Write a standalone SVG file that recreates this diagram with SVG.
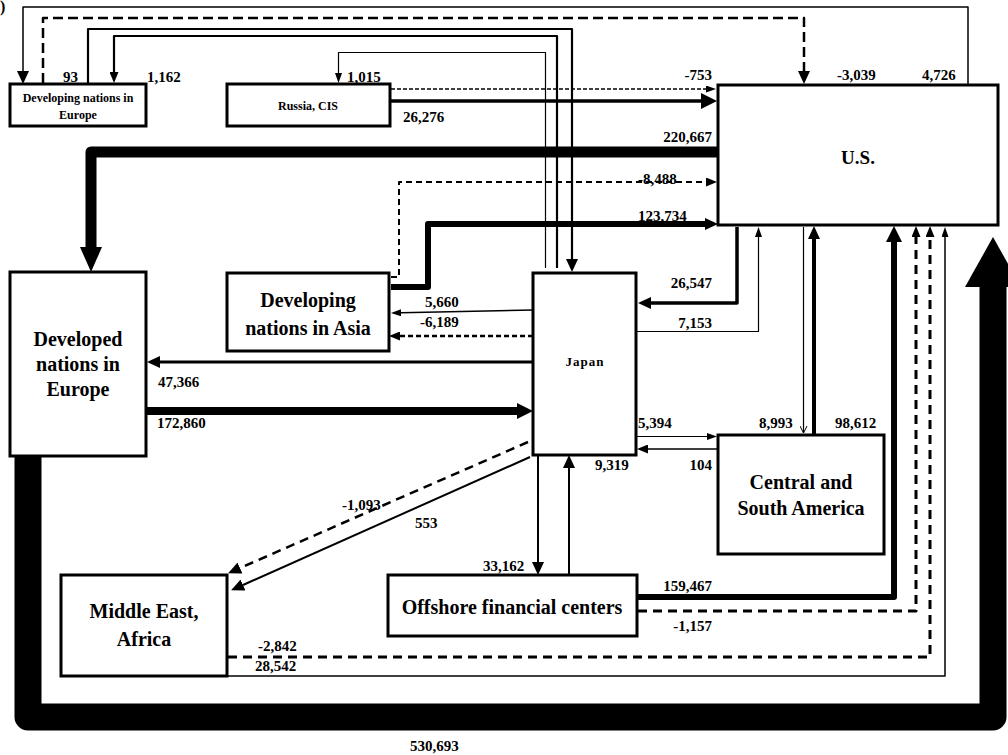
<svg xmlns="http://www.w3.org/2000/svg" width="1008" height="755" viewBox="0 0 1008 755">
<defs>
<style>
.box{fill:#fff;stroke:#000;stroke-width:3}
.t{font-family:"Liberation Serif","Times New Roman",serif;font-weight:bold;fill:#000}
.lbl{font-size:20px;text-anchor:middle}
.sm{font-size:12px;text-anchor:middle}
.n{font-size:15px}
.e{text-anchor:end}
.c{fill:none;stroke:#000;stroke-linejoin:round}
.d1{stroke-dasharray:10 5}
.d2{stroke-dasharray:4 2}
.d3{stroke-dasharray:6 4}
.d4{stroke-dasharray:5 3}
.d5{stroke-dasharray:9 6}
</style>
<marker id="a7" markerUnits="userSpaceOnUse" markerWidth="10" markerHeight="7" viewBox="0 0 10 7" refX="0" refY="3.5" orient="auto"><path d="M0,0 L10,3.5 L0,7 Z" fill="#000"/></marker>
<marker id="a9" markerUnits="userSpaceOnUse" markerWidth="11" markerHeight="9" viewBox="0 0 11 9" refX="0" refY="4.5" orient="auto"><path d="M0,0 L11,4.5 L0,9 Z" fill="#000"/></marker>
<marker id="a12" markerUnits="userSpaceOnUse" markerWidth="13" markerHeight="12" viewBox="0 0 13 12" refX="0" refY="6" orient="auto"><path d="M0,0 L13,6 L0,12 Z" fill="#000"/></marker>
<marker id="a16" markerUnits="userSpaceOnUse" markerWidth="16" markerHeight="16" viewBox="0 0 16 16" refX="0" refY="8" orient="auto"><path d="M0,0 L16,8 L0,16 Z" fill="#000"/></marker>
<marker id="a22" markerUnits="userSpaceOnUse" markerWidth="25" markerHeight="22" viewBox="0 0 25 22" refX="0" refY="11" orient="auto"><path d="M0,0 L25,11 L0,22 Z" fill="#000"/></marker>
<marker id="a54" markerUnits="userSpaceOnUse" markerWidth="50" markerHeight="56" viewBox="0 0 50 56" refX="0" refY="28" orient="auto"><path d="M0,0 L50,28 L0,56 Z" fill="#000"/></marker>
<marker id="ao" markerUnits="userSpaceOnUse" markerWidth="8" markerHeight="8" viewBox="0 0 8 8" refX="7" refY="4" orient="auto"><path d="M0,0.5 L7,4 L0,7.5" fill="none" stroke="#000" stroke-width="1"/></marker>
</defs>
<rect width="1008" height="755" fill="#fff"/>
<text class="t" x="0" y="12" font-size="16">)</text>

<g id="connectors">
<path class="c" stroke-width="1.5" d="M968,86 V7 H23 V71" marker-end="url(#a12)"/>
<path class="c d1" stroke-width="2.5" d="M43,83 V18 H804 V71" marker-end="url(#a12)"/>
<path class="c" stroke-width="2.2" d="M88,83 V29 H572 V259" marker-end="url(#a12)"/>
<path class="c" stroke-width="2.2" d="M557,268 V36 H114 V72" marker-end="url(#a9)"/>
<path class="c" stroke-width="1.2" d="M545.5,268 V52.5 H338.5 V73" marker-end="url(#a7)"/>
<path class="c d2" stroke-width="1.5" d="M391,89 H706" marker-end="url(#a7)"/>
<path class="c" stroke-width="3.5" d="M391,101 H701" marker-end="url(#a16)"/>
<path class="c" stroke-width="11" d="M718,152 H91 V247" marker-end="url(#a22)"/>
<path class="c d3" stroke-width="2" d="M391,277 H399 V182 H706" marker-end="url(#a9)"/>
<path class="c" stroke-width="6" d="M391,287 H428 V224 H705" marker-end="url(#a12)"/>
<path class="c" stroke-width="3.5" d="M737,227 V303 H651" marker-end="url(#a12)"/>
<path class="c" stroke-width="1.2" d="M637,331.5 H758.5 V237" marker-end="url(#a7)"/>
<path class="c" stroke-width="1.5" d="M533,310 L401,312.8" marker-end="url(#a7)"/>
<path class="c d4" stroke-width="2.5" d="M533,336 H400" marker-end="url(#a9)"/>
<path class="c" stroke-width="3" d="M533,362 H160" marker-end="url(#a12)"/>
<path class="c" stroke-width="8" d="M147,411 H517" marker-end="url(#a16)"/>
<path class="c d5" stroke-width="2.5" d="M528,442 L240,568" marker-end="url(#a12)"/>
<path class="c" stroke-width="2" d="M530,457 L243,585" marker-end="url(#a12)"/>
<path class="c" stroke-width="1.2" d="M637,436.5 H707" marker-end="url(#a7)"/>
<path class="c" stroke-width="1.5" d="M718,449 H648" marker-end="url(#a9)"/>
<path class="c" stroke-width="2" d="M538,456 V562" marker-end="url(#a12)"/>
<path class="c" stroke-width="2" d="M569,575 V468" marker-end="url(#a12)"/>
<path class="c" stroke-width="1.2" d="M803.5,227 V433" marker-end="url(#ao)"/>
<path class="c" stroke-width="4" d="M814,434 V239" marker-end="url(#a12)"/>
<path class="c" stroke-width="6" d="M638,597 H894 V242" marker-end="url(#a16)"/>
<path class="c d5" stroke-width="3" d="M638,611 H916 V237" marker-end="url(#a9)"/>
<path class="c d5" stroke-width="3" d="M228,657 H930 V237" marker-end="url(#a9)"/>
<path class="c" stroke-width="1.5" d="M228,676 H945 V237" marker-end="url(#a7)"/>
<path class="c" stroke-width="27" d="M28,457 V717 H993 V287" marker-end="url(#a54)"/>
</g>

<g id="labels">
<text class="t n" x="63" y="82">93</text>
<text class="t n" x="147" y="82">1,162</text>
<text class="t n" x="347" y="82">1,015</text>
<text class="t n" x="403" y="122">26,276</text>
<text class="t n e" x="712" y="80">-753</text>
<text class="t n" x="837" y="80">-3,039</text>
<text class="t n" x="922" y="80">4,726</text>
<text class="t n e" x="712" y="142">220,667</text>
<text class="t n" x="638" y="184">-8,488</text>
<text class="t n" x="638" y="221">123,734</text>
<text class="t n e" x="712" y="288">26,547</text>
<text class="t n e" x="712" y="328">7,153</text>
<text class="t n" x="425" y="307">5,660</text>
<text class="t n" x="420" y="327">-6,189</text>
<text class="t n" x="158" y="387">47,366</text>
<text class="t n" x="157" y="428">172,860</text>
<text class="t n" x="638" y="428">5,394</text>
<text class="t n" x="595" y="470">9,319</text>
<text class="t n e" x="712" y="470">104</text>
<text class="t n" x="759" y="428">8,993</text>
<text class="t n" x="835" y="428">98,612</text>
<text class="t n" x="342" y="510">-1,093</text>
<text class="t n" x="415" y="528">553</text>
<text class="t n" x="483" y="571">33,162</text>
<text class="t n e" x="712" y="591">159,467</text>
<text class="t n e" x="712" y="631">-1,157</text>
<text class="t n" x="258" y="651">-2,842</text>
<text class="t n" x="255" y="671">28,542</text>
<text class="t n" x="410" y="751">530,693</text>
</g>

<g id="node-dev-europe-small">
<rect class="box" x="10" y="84" width="136" height="42"/>
<text class="t sm" x="78" y="102">Developing nations in</text>
<text class="t sm" x="78" y="119">Europe</text>
</g>
<g id="node-russia">
<rect class="box" x="227" y="84" width="163" height="42"/>
<text class="t sm" x="308" y="110">Russia, CIS</text>
</g>
<g id="node-us">
<rect class="box" x="718" y="85" width="280" height="140"/>
<text class="t" x="858" y="164" font-size="19" text-anchor="middle">U.S.</text>
</g>
<g id="node-dev-europe">
<rect class="box" x="10" y="272" width="136" height="184"/>
<text class="t lbl" x="78" y="346">Developed</text>
<text class="t lbl" x="78" y="371">nations in</text>
<text class="t lbl" x="78" y="396">Europe</text>
</g>
<g id="node-asia">
<rect class="box" x="227" y="273" width="162" height="78"/>
<text class="t lbl" x="308" y="307">Developing</text>
<text class="t lbl" x="308" y="335">nations in Asia</text>
</g>
<g id="node-japan">
<rect class="box" x="533" y="273" width="103" height="182"/>
<text class="t" x="585" y="366" font-size="13" letter-spacing="1" text-anchor="middle">Japan</text>
</g>
<g id="node-csa">
<rect class="box" x="718" y="435" width="166" height="119"/>
<text class="t lbl" x="801" y="489">Central and</text>
<text class="t lbl" x="801" y="515">South America</text>
</g>
<g id="node-mea">
<rect class="box" x="61" y="575" width="166" height="101"/>
<text class="t lbl" x="144" y="618">Middle East,</text>
<text class="t lbl" x="144" y="646">Africa</text>
</g>
<g id="node-offshore">
<rect class="box" x="388" y="575" width="249" height="61"/>
<text class="t lbl" x="512" y="614">Offshore financial centers</text>
</g>
</svg>
